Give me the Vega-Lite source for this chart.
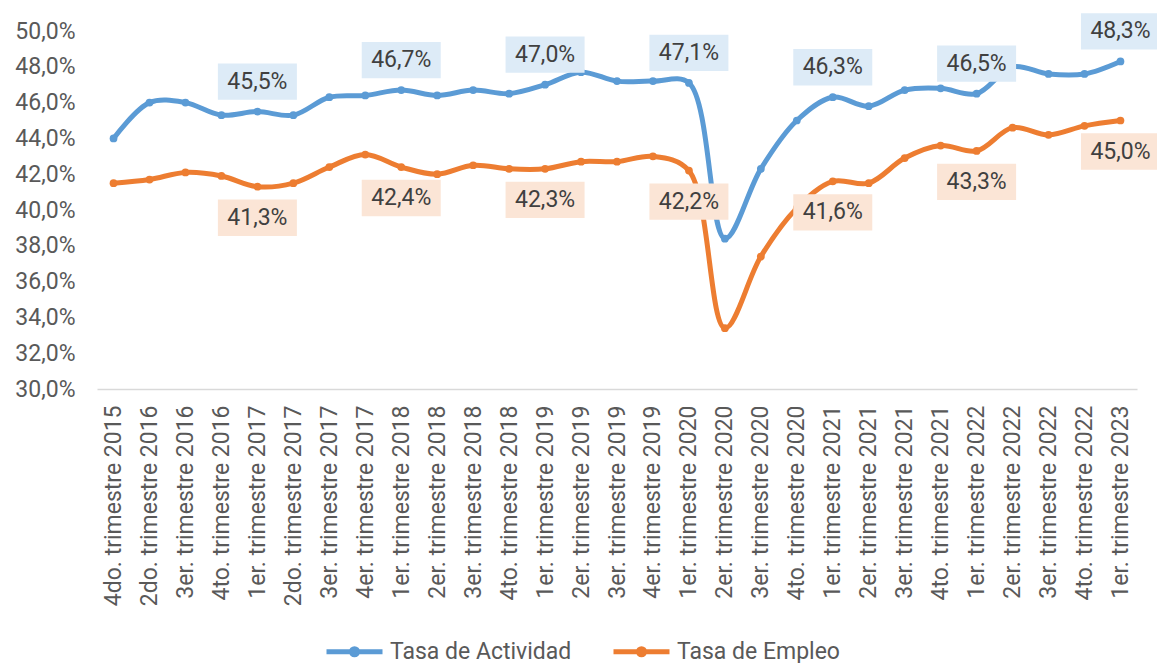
{
  "$schema": "https://vega.github.io/schema/vega-lite/v6.json",
  "width": 1040,
  "height": 358,
  "autosize": {"type": "none"},
  "padding": {"left": 97, "top": 31, "right": 20, "bottom": 274},
  "background": "white",
  "config": {
    "view": {"stroke": null},
    "font": "Roboto",
    "locale": {"number": {"decimal": ",", "thousands": ".", "grouping": [3], "currency": ["", " €"]}}
  },
  "data": {"values": [
    {"periodo": "4do. trimestre 2015", "serie": "Tasa de Actividad", "valor": 0.440, "rotulo": false},
    {"periodo": "2do. trimestre 2016", "serie": "Tasa de Actividad", "valor": 0.460, "rotulo": false},
    {"periodo": "3er. trimestre 2016", "serie": "Tasa de Actividad", "valor": 0.460, "rotulo": false},
    {"periodo": "4to. trimestre 2016", "serie": "Tasa de Actividad", "valor": 0.453, "rotulo": false},
    {"periodo": "1er. trimestre 2017", "serie": "Tasa de Actividad", "valor": 0.455, "rotulo": true},
    {"periodo": "2do. trimestre 2017", "serie": "Tasa de Actividad", "valor": 0.453, "rotulo": false},
    {"periodo": "3er. trimestre 2017", "serie": "Tasa de Actividad", "valor": 0.463, "rotulo": false},
    {"periodo": "4er. trimestre 2017", "serie": "Tasa de Actividad", "valor": 0.464, "rotulo": false},
    {"periodo": "1er. trimestre 2018", "serie": "Tasa de Actividad", "valor": 0.467, "rotulo": true},
    {"periodo": "2er. trimestre 2018", "serie": "Tasa de Actividad", "valor": 0.464, "rotulo": false},
    {"periodo": "3er. trimestre 2018", "serie": "Tasa de Actividad", "valor": 0.467, "rotulo": false},
    {"periodo": "4to. trimestre 2018", "serie": "Tasa de Actividad", "valor": 0.465, "rotulo": false},
    {"periodo": "1er. trimestre 2019", "serie": "Tasa de Actividad", "valor": 0.470, "rotulo": true},
    {"periodo": "2er. trimestre 2019", "serie": "Tasa de Actividad", "valor": 0.477, "rotulo": false},
    {"periodo": "3er. trimestre 2019", "serie": "Tasa de Actividad", "valor": 0.472, "rotulo": false},
    {"periodo": "4er. trimestre 2019", "serie": "Tasa de Actividad", "valor": 0.472, "rotulo": false},
    {"periodo": "1er. trimestre 2020", "serie": "Tasa de Actividad", "valor": 0.471, "rotulo": true},
    {"periodo": "2er. trimestre 2020", "serie": "Tasa de Actividad", "valor": 0.384, "rotulo": false},
    {"periodo": "3er. trimestre 2020", "serie": "Tasa de Actividad", "valor": 0.423, "rotulo": false},
    {"periodo": "4to. trimestre 2020", "serie": "Tasa de Actividad", "valor": 0.450, "rotulo": false},
    {"periodo": "1er. trimestre 2021", "serie": "Tasa de Actividad", "valor": 0.463, "rotulo": true},
    {"periodo": "2er. trimestre 2021", "serie": "Tasa de Actividad", "valor": 0.458, "rotulo": false},
    {"periodo": "3er. trimestre 2021", "serie": "Tasa de Actividad", "valor": 0.467, "rotulo": false},
    {"periodo": "4to. trimestre 2021", "serie": "Tasa de Actividad", "valor": 0.468, "rotulo": false},
    {"periodo": "1er. trimestre 2022", "serie": "Tasa de Actividad", "valor": 0.465, "rotulo": true},
    {"periodo": "2er. trimestre 2022", "serie": "Tasa de Actividad", "valor": 0.480, "rotulo": false},
    {"periodo": "3er. trimestre 2022", "serie": "Tasa de Actividad", "valor": 0.476, "rotulo": false},
    {"periodo": "4to. trimestre 2022", "serie": "Tasa de Actividad", "valor": 0.476, "rotulo": false},
    {"periodo": "1er. trimestre 2023", "serie": "Tasa de Actividad", "valor": 0.483, "rotulo": true},
    {"periodo": "4do. trimestre 2015", "serie": "Tasa de Empleo", "valor": 0.415, "rotulo": false},
    {"periodo": "2do. trimestre 2016", "serie": "Tasa de Empleo", "valor": 0.417, "rotulo": false},
    {"periodo": "3er. trimestre 2016", "serie": "Tasa de Empleo", "valor": 0.421, "rotulo": false},
    {"periodo": "4to. trimestre 2016", "serie": "Tasa de Empleo", "valor": 0.419, "rotulo": false},
    {"periodo": "1er. trimestre 2017", "serie": "Tasa de Empleo", "valor": 0.413, "rotulo": true},
    {"periodo": "2do. trimestre 2017", "serie": "Tasa de Empleo", "valor": 0.415, "rotulo": false},
    {"periodo": "3er. trimestre 2017", "serie": "Tasa de Empleo", "valor": 0.424, "rotulo": false},
    {"periodo": "4er. trimestre 2017", "serie": "Tasa de Empleo", "valor": 0.431, "rotulo": false},
    {"periodo": "1er. trimestre 2018", "serie": "Tasa de Empleo", "valor": 0.424, "rotulo": true},
    {"periodo": "2er. trimestre 2018", "serie": "Tasa de Empleo", "valor": 0.420, "rotulo": false},
    {"periodo": "3er. trimestre 2018", "serie": "Tasa de Empleo", "valor": 0.425, "rotulo": false},
    {"periodo": "4to. trimestre 2018", "serie": "Tasa de Empleo", "valor": 0.423, "rotulo": false},
    {"periodo": "1er. trimestre 2019", "serie": "Tasa de Empleo", "valor": 0.423, "rotulo": true},
    {"periodo": "2er. trimestre 2019", "serie": "Tasa de Empleo", "valor": 0.427, "rotulo": false},
    {"periodo": "3er. trimestre 2019", "serie": "Tasa de Empleo", "valor": 0.427, "rotulo": false},
    {"periodo": "4er. trimestre 2019", "serie": "Tasa de Empleo", "valor": 0.430, "rotulo": false},
    {"periodo": "1er. trimestre 2020", "serie": "Tasa de Empleo", "valor": 0.422, "rotulo": true},
    {"periodo": "2er. trimestre 2020", "serie": "Tasa de Empleo", "valor": 0.334, "rotulo": false},
    {"periodo": "3er. trimestre 2020", "serie": "Tasa de Empleo", "valor": 0.374, "rotulo": false},
    {"periodo": "4to. trimestre 2020", "serie": "Tasa de Empleo", "valor": 0.401, "rotulo": false},
    {"periodo": "1er. trimestre 2021", "serie": "Tasa de Empleo", "valor": 0.416, "rotulo": true},
    {"periodo": "2er. trimestre 2021", "serie": "Tasa de Empleo", "valor": 0.415, "rotulo": false},
    {"periodo": "3er. trimestre 2021", "serie": "Tasa de Empleo", "valor": 0.429, "rotulo": false},
    {"periodo": "4to. trimestre 2021", "serie": "Tasa de Empleo", "valor": 0.436, "rotulo": false},
    {"periodo": "1er. trimestre 2022", "serie": "Tasa de Empleo", "valor": 0.433, "rotulo": true},
    {"periodo": "2er. trimestre 2022", "serie": "Tasa de Empleo", "valor": 0.446, "rotulo": false},
    {"periodo": "3er. trimestre 2022", "serie": "Tasa de Empleo", "valor": 0.442, "rotulo": false},
    {"periodo": "4to. trimestre 2022", "serie": "Tasa de Empleo", "valor": 0.447, "rotulo": false},
    {"periodo": "1er. trimestre 2023", "serie": "Tasa de Empleo", "valor": 0.450, "rotulo": true}
  ]},
  "encoding": {
    "x": {
      "field": "periodo",
      "type": "ordinal",
      "sort": null,
      "scale": {"type": "point", "padding": 0.46},
      "axis": {
        "title": null,
        "ticks": false,
        "grid": false,
        "domainColor": "#D9D9D9",
        "domainWidth": 1.5,
        "labelAngle": -90,
        "labelAlign": "right",
        "labelBaseline": "middle",
        "labelPadding": 16,
        "labelFontSize": 23,
        "labelColor": "#595959",
        "labelLimit": 400,
        "labelOverlap": false
      }
    },
    "y": {
      "field": "valor",
      "type": "quantitative",
      "scale": {"domain": [0.3, 0.5], "nice": false, "zero": false},
      "axis": {
        "title": null,
        "values": [0.30, 0.32, 0.34, 0.36, 0.38, 0.40, 0.42, 0.44, 0.46, 0.48, 0.50],
        "format": ".1%",
        "domain": false,
        "ticks": false,
        "grid": false,
        "labelFontSize": 23,
        "labelColor": "#595959",
        "labelPadding": 22
      }
    }
  },
  "layer": [
    {
      "mark": {"type": "line", "interpolate": "catmull-rom", "strokeWidth": 5, "point": {"filled": true, "size": 60}},
      "encoding": {
        "color": {
          "field": "serie",
          "type": "nominal",
          "scale": {"domain": ["Tasa de Actividad", "Tasa de Empleo"], "range": ["#5B9BD5", "#ED7D31"]},
          "legend": {
            "title": null,
            "orient": "none",
            "direction": "horizontal",
            "legendX": 227,
            "legendY": 590,
            "padding": 0,
            "labelFontSize": 23,
            "labelColor": "#595959",
            "labelOffset": 5,
            "labelLimit": 400,
            "columnPadding": 31,
            "symbolType": "M-1,0H1M-0.11,0A0.11,0.11 0 1,0 0.11,0A0.11,0.11 0 1,0 -0.11,0",
            "symbolSize": 3136,
            "symbolStrokeWidth": 5,
            "symbolOpacity": 1
          }
        }
      }
    },
    {
      "transform": [{"filter": "datum.rotulo && datum.serie == 'Tasa de Actividad'"}],
      "mark": {"type": "point", "shape": "M-1,-0.46H1V0.46H-1Z", "size": 6241, "filled": true, "opacity": 1, "strokeWidth": 0, "color": "#DDEBF7", "yOffset": -30}
    },
    {
      "transform": [{"filter": "datum.rotulo && datum.serie == 'Tasa de Empleo'"}],
      "mark": {"type": "point", "shape": "M-1,-0.46H1V0.46H-1Z", "size": 6241, "filled": true, "opacity": 1, "strokeWidth": 0, "color": "#FBE5D6", "yOffset": 31}
    },
    {
      "transform": [{"filter": "datum.rotulo && datum.serie == 'Tasa de Actividad'"}],
      "mark": {"type": "text", "fontSize": 23, "color": "#404040", "align": "center", "baseline": "middle", "yOffset": -30},
      "encoding": {"text": {"field": "valor", "type": "quantitative", "format": ".1%"}}
    },
    {
      "transform": [{"filter": "datum.rotulo && datum.serie == 'Tasa de Empleo'"}],
      "mark": {"type": "text", "fontSize": 23, "color": "#404040", "align": "center", "baseline": "middle", "yOffset": 31},
      "encoding": {"text": {"field": "valor", "type": "quantitative", "format": ".1%"}}
    }
  ]
}
